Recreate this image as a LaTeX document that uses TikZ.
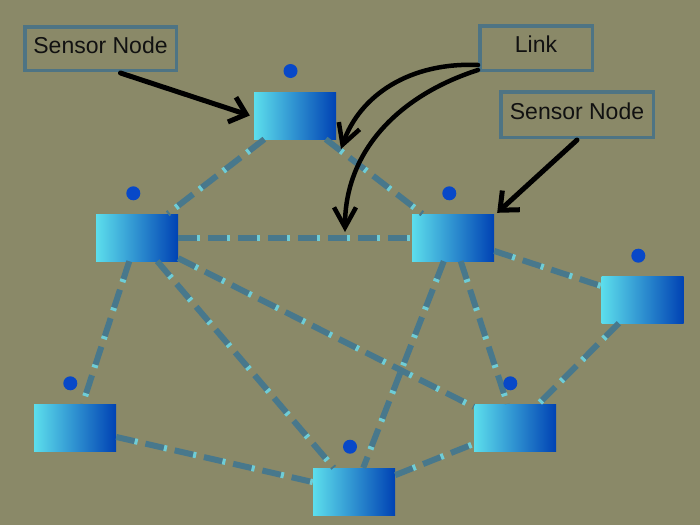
\documentclass[tikz,border=0pt]{standalone}
\usepackage{fontspec}
\setmainfont{Liberation Sans}
\usetikzlibrary{arrows.meta}
\definecolor{bgc}{RGB}{138,137,104}
\definecolor{linkdark}{RGB}{72,120,140}
\definecolor{linklight}{RGB}{110,205,215}
\definecolor{labelborder}{RGB}{78,116,132}
\definecolor{dotblue}{RGB}{8,72,200}
\definecolor{gradleft}{RGB}{92,222,236}
\definecolor{gradright}{RGB}{0,66,180}
\definecolor{txt}{RGB}{17,17,17}
\tikzset{
  sensorbox/.style={rectangle, inner sep=0pt, minimum width=82pt, minimum height=47pt,
    left color=gradleft, right color=gradright, draw=none},
  sdot/.style={circle, inner sep=0pt, minimum size=14pt, fill=dotblue, draw=none},
  labelbox/.style={rectangle, draw=labelborder, line width=3.5pt, inner sep=0pt,
    text=txt, font=\fontsize{23}{27}\selectfont, text height=17pt, text depth=8pt},
  linkdash/.style={draw=linkdark, line width=6pt, dash pattern=on 19pt off 11pt},
  linktip/.style={draw=linklight, line width=6pt, dash pattern=on 3pt off 27pt, dash phase=11pt},
  blackarrow/.style={draw=black, line width=5pt, line cap=round,
    -{Straight Barb[length=15pt,width=26pt]}},
  linkarrow/.style={draw=black, line width=4.5pt, line cap=round,
    -{Straight Barb[length=20pt,width=22pt]}}
}
\begin{document}
\begin{tikzpicture}[x=1pt,y=-1pt]
\fill[bgc] (0,0) rectangle (700,525);
\useasboundingbox (0,0) rectangle (700,525);

% sensor nodes
\node[sensorbox] (t)  at (295,115.5) {};
\node[sensorbox] (lm) at (137,237.5) {};
\node[sensorbox] (rm) at (453,237.5) {};
\node[sensorbox] (fr) at (642.5,299.5) {};
\node[sensorbox] (bl) at (75,427.5) {};
\node[sensorbox] (br) at (515,427.5) {};
\node[sensorbox] (bc) at (354,491.5) {};

% links
\foreach \a/\b in {t/lm, t/rm, lm/rm, lm/bl, lm/bc, lm/br, rm/fr, rm/br, rm/bc, fr/br, bl/bc, bc/br}{
  \path[linkdash] (\a) -- (\b);
  \path[linktip] (\a) -- (\b);
}

% dots
\node[sdot] (td)  at (290.5,71) {};
\node[sdot] (lmd) at (133.3,193.3) {};
\node[sdot] (rmd) at (449.3,193.3) {};
\node[sdot] (frd) at (638.3,255.7) {};
\node[sdot] (bld) at (70.3,383.3) {};
\node[sdot] (brd) at (510.3,383.3) {};
\node[sdot] (bcd) at (350,446.7) {};

% labels
\node[labelbox, minimum width=151.5pt, minimum height=43.5pt] (sn1) at (100.5,48.5) {Sensor Node};
\node[labelbox, minimum width=112.5pt, minimum height=44.5pt] (lk) at (536,48) {Link};
\node[labelbox, minimum width=152.5pt, minimum height=45.5pt] (sn2) at (577,114.5) {Sensor Node};

\coordinate (la) at (341,149);
\coordinate (lb) at (345,232);

% arrows
\draw[blackarrow] ([xshift=20pt,yshift=-1pt]sn1.south) -- ([xshift=-4pt]t.west);
\draw[blackarrow] ([yshift=-1pt]sn2.south) -- ([xshift=3pt,yshift=1pt]rm.north east);
\draw[linkarrow] ([yshift=7pt]lk.south west) .. controls (410,62) and (360,95) .. (la);
\draw[linkarrow] ([yshift=2pt]lk.south west) .. controls (400,95) and (345,150) .. (lb);
\end{tikzpicture}
\end{document}
